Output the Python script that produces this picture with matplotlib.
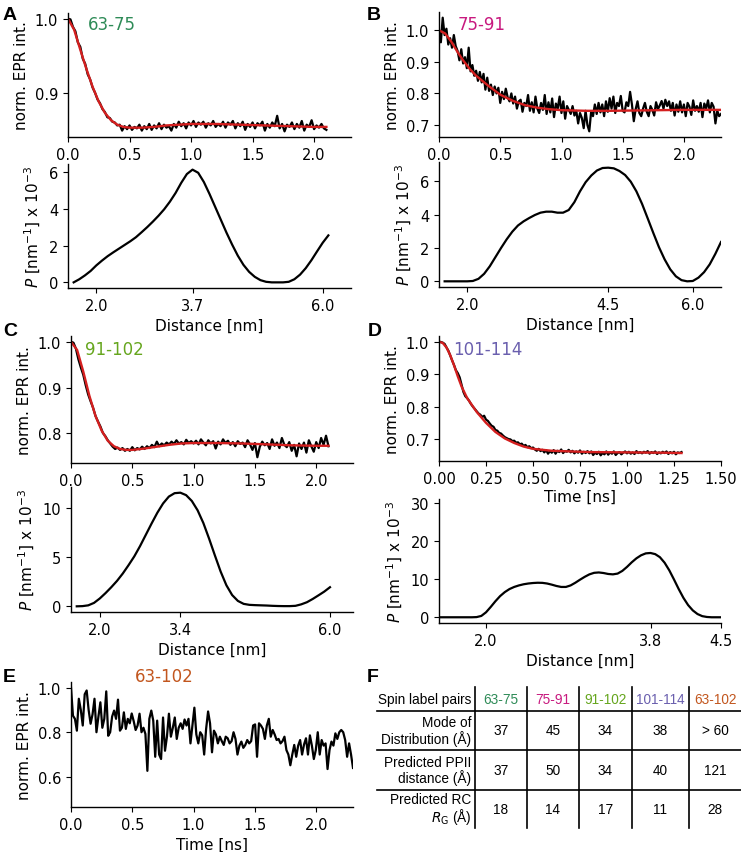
import numpy as np
import matplotlib
matplotlib.use('Agg')
import matplotlib.pyplot as plt
from matplotlib.ticker import FormatStrFormatter

W, H = 741, 853

# spin label pairs and colours
pairs = ['63-75', '75-91', '91-102', '101-114', '63-102']
pair_colors = ['#2e8b57', '#c8197f', '#66a61e', '#6a5fae', '#c2561e']
fit_color = '#d41f1f'

# --- time traces (norm. EPR int.) ---
tend_A = 2.1
trace_A = [1.000, 0.999, 0.989, 0.983, 0.968, 0.962, 0.946, 0.939, 0.925, 0.918,
           0.907, 0.900, 0.891, 0.886, 0.878, 0.874, 0.867, 0.866, 0.861, 0.860,
           0.856, 0.857, 0.849, 0.855, 0.851, 0.856, 0.850, 0.854, 0.852, 0.857,
           0.849, 0.855, 0.851, 0.858, 0.850, 0.856, 0.852, 0.859, 0.851, 0.857,
           0.853, 0.855, 0.849, 0.858, 0.853, 0.861, 0.855, 0.859, 0.852, 0.860,
           0.856, 0.862, 0.854, 0.860, 0.857, 0.861, 0.853, 0.859, 0.856, 0.862,
           0.854, 0.858, 0.855, 0.861, 0.853, 0.860, 0.857, 0.862, 0.852, 0.859,
           0.855, 0.861, 0.850, 0.858, 0.854, 0.860, 0.852, 0.859, 0.856, 0.861,
           0.849, 0.858, 0.853, 0.860, 0.855, 0.869, 0.852, 0.858, 0.848, 0.857,
           0.854, 0.860, 0.851, 0.858, 0.853, 0.862, 0.849, 0.857, 0.854, 0.863,
           0.851, 0.856, 0.853, 0.858, 0.852, 0.850]
fit_tA = [0, 0.05, 0.1, 0.15, 0.2, 0.25, 0.3, 0.35, 0.4, 0.45, 0.5, 0.6, 0.7,
          0.8, 0.9, 1.0, 1.2, 1.4, 1.6, 1.8, 2.0, 2.1]
fit_A = [1.0, 0.985, 0.958, 0.932, 0.908, 0.888, 0.873, 0.863, 0.857, 0.854,
         0.853, 0.853, 0.854, 0.856, 0.857, 0.858, 0.858, 0.857, 0.856, 0.855,
         0.854, 0.854]

tend_B = 2.3
trace_B = [1.000, 0.962, 1.040, 0.985, 1.005, 0.955, 0.975, 0.945, 0.985, 0.950,
           0.935, 0.905, 0.940, 0.895, 0.915, 0.880, 0.945, 0.870, 0.890, 0.856,
           0.872, 0.840, 0.868, 0.835, 0.862, 0.812, 0.850, 0.808, 0.828, 0.795,
           0.822, 0.800, 0.818, 0.770, 0.805, 0.782, 0.815, 0.788, 0.775, 0.800,
           0.768, 0.790, 0.752, 0.775, 0.780, 0.742, 0.770, 0.760, 0.795, 0.745,
           0.772, 0.740, 0.790, 0.752, 0.738, 0.770, 0.748, 0.795, 0.735, 0.772,
           0.740, 0.784, 0.725, 0.768, 0.752, 0.790, 0.738, 0.775, 0.720, 0.760,
           0.748, 0.735, 0.760, 0.730, 0.745, 0.705, 0.738, 0.722, 0.690, 0.745,
           0.700, 0.680, 0.742, 0.728, 0.765, 0.735, 0.770, 0.740, 0.765, 0.728,
           0.775, 0.742, 0.785, 0.752, 0.790, 0.738, 0.770, 0.760, 0.792, 0.745,
           0.740, 0.772, 0.760, 0.805, 0.765, 0.712, 0.750, 0.775, 0.738, 0.728,
           0.752, 0.770, 0.742, 0.728, 0.760, 0.748, 0.730, 0.772, 0.750, 0.762,
           0.776, 0.752, 0.780, 0.760, 0.775, 0.745, 0.770, 0.730, 0.765, 0.742,
           0.775, 0.740, 0.765, 0.728, 0.770, 0.758, 0.732, 0.778, 0.745, 0.760,
           0.742, 0.770, 0.725, 0.768, 0.752, 0.778, 0.740, 0.770, 0.758, 0.705,
           0.745, 0.728, 0.735]
fit_tB = [0, 0.05, 0.1, 0.15, 0.2, 0.25, 0.3, 0.4, 0.5, 0.6, 0.7, 0.8, 0.9,
          1.0, 1.2, 1.4, 1.6, 1.8, 2.0, 2.3]
fit_B = [1.0, 0.99, 0.964, 0.932, 0.903, 0.878, 0.857, 0.825, 0.796, 0.777,
         0.763, 0.755, 0.750, 0.747, 0.745, 0.745, 0.746, 0.747, 0.748, 0.748]

tend_C = 2.1
trace_C = [1.000, 0.998, 0.985, 0.962, 0.944, 0.928, 0.905, 0.885, 0.870, 0.856,
           0.838, 0.826, 0.815, 0.801, 0.794, 0.785, 0.778, 0.771, 0.766, 0.769,
           0.764, 0.768, 0.762, 0.766, 0.762, 0.770, 0.763, 0.768, 0.765, 0.771,
           0.766, 0.772, 0.768, 0.775, 0.770, 0.782, 0.772, 0.778, 0.774, 0.780,
           0.776, 0.782, 0.777, 0.785, 0.778, 0.781, 0.776, 0.786, 0.779, 0.783,
           0.778, 0.784, 0.776, 0.787, 0.780, 0.774, 0.785, 0.778, 0.783, 0.767,
           0.782, 0.776, 0.787, 0.779, 0.784, 0.775, 0.781, 0.772, 0.783, 0.777,
           0.780, 0.770, 0.785, 0.776, 0.764, 0.779, 0.748, 0.771, 0.782, 0.774,
           0.779, 0.766, 0.787, 0.773, 0.780, 0.768, 0.790, 0.775, 0.770, 0.781,
           0.762, 0.775, 0.750, 0.778, 0.766, 0.780, 0.758, 0.785, 0.772, 0.760,
           0.781, 0.768, 0.790, 0.775, 0.795, 0.772]
fit_tC = [0, 0.05, 0.1, 0.15, 0.2, 0.25, 0.3, 0.35, 0.4, 0.45, 0.5, 0.6, 0.7,
          0.8, 0.9, 1.0, 1.2, 1.4, 1.6, 1.8, 2.0, 2.1]
fit_C = [1.0, 0.982, 0.935, 0.882, 0.838, 0.806, 0.784, 0.772, 0.766, 0.764,
         0.764, 0.767, 0.771, 0.775, 0.778, 0.779, 0.779, 0.778, 0.776, 0.774,
         0.773, 0.773]

tend_D = 1.29
trace_D = [1.000, 0.999, 0.997, 0.993, 0.982, 0.972, 0.957, 0.942, 0.928, 0.912,
           0.903, 0.890, 0.868, 0.845, 0.832, 0.826, 0.818, 0.808, 0.800, 0.793,
           0.786, 0.779, 0.775, 0.768, 0.772, 0.760, 0.756, 0.748, 0.741, 0.738,
           0.728, 0.726, 0.719, 0.717, 0.711, 0.706, 0.703, 0.700, 0.699, 0.694,
           0.695, 0.689, 0.690, 0.684, 0.686, 0.679, 0.682, 0.675, 0.678, 0.672,
           0.674, 0.668, 0.664, 0.670, 0.663, 0.667, 0.659, 0.666, 0.655, 0.663,
           0.658, 0.666, 0.655, 0.664, 0.660, 0.668, 0.657, 0.663, 0.661, 0.667,
           0.659, 0.664, 0.656, 0.662, 0.658, 0.665, 0.655, 0.661, 0.657, 0.663,
           0.656, 0.662, 0.651, 0.658, 0.654, 0.661, 0.650, 0.657, 0.653, 0.662,
           0.652, 0.659, 0.655, 0.662, 0.651, 0.657, 0.660, 0.653, 0.658, 0.662,
           0.656, 0.661, 0.655, 0.659, 0.654, 0.663, 0.657, 0.660, 0.656, 0.661,
           0.658, 0.663, 0.655, 0.660, 0.657, 0.662, 0.654, 0.659, 0.656, 0.661,
           0.657, 0.662, 0.654, 0.660, 0.656, 0.661, 0.653, 0.659, 0.657, 0.660]
fit_tD = [0, 0.02, 0.04, 0.06, 0.08, 0.1, 0.12, 0.15, 0.2, 0.25, 0.3, 0.35,
          0.4, 0.45, 0.5, 0.6, 0.7, 0.8, 1.0, 1.2, 1.29]
fit_D = [1.0, 0.996, 0.982, 0.958, 0.927, 0.893, 0.862, 0.826, 0.784, 0.750,
         0.722, 0.702, 0.688, 0.677, 0.670, 0.664, 0.662, 0.660, 0.659, 0.658,
         0.657]

tend_E = 2.3
trace_E = [1.000, 0.874, 0.860, 0.807, 0.950, 0.900, 0.830, 0.970, 0.987, 0.900,
           0.838, 0.880, 0.950, 0.800, 0.870, 0.934, 0.820, 0.860, 0.983, 0.784,
           0.800, 0.870, 0.897, 0.860, 0.946, 0.807, 0.820, 0.889, 0.815, 0.860,
           0.840, 0.884, 0.850, 0.810, 0.830, 0.883, 0.800, 0.820, 0.792, 0.627,
           0.860, 0.897, 0.852, 0.690, 0.852, 0.700, 0.680, 0.866, 0.717, 0.780,
           0.883, 0.780, 0.820, 0.866, 0.770, 0.820, 0.840, 0.815, 0.857, 0.830,
           0.860, 0.750, 0.830, 0.910, 0.790, 0.750, 0.800, 0.786, 0.700, 0.815,
           0.893, 0.840, 0.710, 0.807, 0.790, 0.750, 0.780, 0.760, 0.743, 0.780,
           0.773, 0.750, 0.760, 0.800, 0.770, 0.700, 0.740, 0.758, 0.730, 0.743,
           0.765, 0.750, 0.760, 0.830, 0.835, 0.690, 0.840, 0.830, 0.815, 0.770,
           0.830, 0.860, 0.780, 0.810, 0.790, 0.765, 0.770, 0.750, 0.760, 0.780,
           0.720, 0.700, 0.652, 0.700, 0.743, 0.690, 0.740, 0.765, 0.700, 0.745,
           0.773, 0.700, 0.786, 0.740, 0.680, 0.720, 0.800, 0.700, 0.765, 0.740,
           0.750, 0.635, 0.720, 0.758, 0.740, 0.795, 0.770, 0.800, 0.810, 0.800,
           0.765, 0.690, 0.750, 0.700, 0.640]

# --- distance distributions (P x 10^-3) ---
rA = (1.6, 6.1)
dist_A = [0.0, 0.17, 0.38, 0.62, 0.92, 1.18, 1.42, 1.63, 1.83, 2.03,
          2.23, 2.45, 2.72, 3.00, 3.30, 3.62, 3.97, 4.38, 4.85, 5.40,
          5.88, 6.12, 5.95, 5.45, 4.80, 4.10, 3.40, 2.70, 2.05, 1.45,
          0.95, 0.57, 0.30, 0.12, 0.03, 0.0, 0.0, 0.0, 0.03, 0.17,
          0.42, 0.77, 1.20, 1.68, 2.15, 2.55]
rB = (1.6, 6.5)
dist_B = [0.0, 0.0, 0.0, 0.0, 0.0, 0.02, 0.15, 0.45, 0.90, 1.45,
          2.00, 2.52, 2.98, 3.35, 3.60, 3.80, 3.98, 4.12, 4.18, 4.18,
          4.12, 4.12, 4.28, 4.75, 5.40, 5.95, 6.35, 6.65, 6.80, 6.82,
          6.78, 6.62, 6.38, 5.98, 5.40, 4.65, 3.78, 2.90, 2.05, 1.32,
          0.72, 0.30, 0.07, 0.0, 0.02, 0.22, 0.55, 1.02, 1.65, 2.36]
rC = (1.6, 6.0)
dist_C = [0.0, 0.02, 0.10, 0.35, 0.80, 1.35, 1.95, 2.60, 3.35, 4.20,
          5.10, 6.15, 7.30, 8.45, 9.55, 10.50, 11.20, 11.55, 11.60, 11.35,
          10.75, 9.80, 8.50, 6.90, 5.20, 3.55, 2.15, 1.15, 0.55, 0.25,
          0.15, 0.12, 0.10, 0.08, 0.05, 0.03, 0.02, 0.02, 0.05, 0.20,
          0.42, 0.75, 1.12, 1.50, 1.95]
rD = (1.5, 4.5)
dist_D = [0.0, 0.0, 0.0, 0.0, 0.0, 0.0, 0.0, 0.0, 0.05, 0.35,
          1.30, 2.70, 4.20, 5.55, 6.60, 7.40, 7.95, 8.35, 8.65, 8.85,
          8.98, 9.05, 9.02, 8.85, 8.55, 8.20, 7.95, 7.95, 8.35, 9.05,
          9.85, 10.60, 11.25, 11.65, 11.75, 11.60, 11.35, 11.25, 11.45, 12.15,
          13.20, 14.40, 15.45, 16.25, 16.75, 16.85, 16.55, 15.75, 14.30, 12.30,
          9.90, 7.40, 5.10, 3.20, 1.80, 0.85, 0.30, 0.08, 0.0, 0.0, 0.0]

# --- table ---
row_labels = ['Spin label pairs', 'Mode of\nDistribution (Å)',
              'Predicted PPII\ndistance (Å)', 'Predicted RC\n$R_{\\rm G}$ (Å)']
mode_vals = ['37', '45', '34', '38', '> 60']
ppii_vals = ['37', '50', '34', '40', '121']
rg_vals = ['18', '14', '17', '11', '28']

plt.rcParams['font.size'] = 10.5
plt.rcParams['axes.labelsize'] = 11
plt.rcParams['axes.linewidth'] = 1.0

fig = plt.figure(figsize=(W / 100, H / 100), dpi=100)


def panel(l, t, r, b):
    ax = fig.add_axes([l / W, 1 - b / H, (r - l) / W, (b - t) / H])
    ax.spines['top'].set_visible(False)
    ax.spines['right'].set_visible(False)
    ax.patch.set_visible(False)
    return ax


def trace(ax, y, tend, tf=None, yf=None, label=None, color='k', lx=0.06, ly=0.9):
    t = np.linspace(0, tend, len(y))
    ax.plot(t, y, color='k', lw=1.6)
    if tf is not None:
        ax.plot(tf, yf, color=fit_color, lw=1.7)
    ax.set_ylabel('norm. EPR int.')
    ax.text(lx, ly, label, color=color, fontsize=12, transform=ax.transAxes,
            ha='left', va='center')


def dist(ax, rr, p, xlim, xticks):
    r = np.linspace(rr[0], rr[1], len(p))
    ax.plot(r, p, color='k', lw=1.6)
    ax.set_xlim(*xlim)
    ax.set_xticks(xticks)
    ax.xaxis.set_major_formatter(FormatStrFormatter('%.1f'))
    ax.set_xlabel('Distance [nm]')
    ax.set_ylabel('$P$ [nm$^{-1}$] x 10$^{-3}$')


top_ticks = [0, 0.5, 1.0, 1.5, 2.0]

# A
ax = panel(68, 14, 351, 138)
trace(ax, trace_A, tend_A, fit_tA, fit_A, pairs[0], pair_colors[0], 0.071, 0.91)
ax.set_xlim(0, 2.3)
ax.set_xticks(top_ticks)
ax.set_yticks([0.9, 1.0])
ax.xaxis.set_major_formatter(FormatStrFormatter('%.1f'))
ax.yaxis.set_major_formatter(FormatStrFormatter('%.1f'))
ax = panel(68, 165, 351, 289)
dist(ax, rA, dist_A, (1.5, 6.5), [2.0, 3.7, 6.0])
ax.set_yticks([0, 2, 4, 6])

# B
ax = panel(439, 13, 721, 138)
trace(ax, trace_B, tend_B, fit_tB, fit_B, pairs[1], pair_colors[1], 0.067, 0.904)
ax.set_xlim(0, 2.3)
ax.set_xticks(top_ticks)
ax.set_yticks([0.7, 0.8, 0.9, 1.0])
ax.xaxis.set_major_formatter(FormatStrFormatter('%.1f'))
ax = panel(439, 163, 721, 288)
dist(ax, rB, dist_B, (1.5, 6.5), [2.0, 4.5, 6.0])
ax.set_yticks([0, 2, 4, 6])

# C
ax = panel(71, 337, 353, 464)
trace(ax, trace_C, tend_C, fit_tC, fit_C, pairs[2], pair_colors[2], 0.05, 0.9)
ax.set_xlim(0, 2.3)
ax.set_xticks(top_ticks)
ax.set_yticks([0.8, 0.9, 1.0])
ax.xaxis.set_major_formatter(FormatStrFormatter('%.1f'))
ax = panel(71, 488, 353, 613)
dist(ax, rC, dist_C, (1.5, 6.4), [2.0, 3.4, 6.0])
ax.set_yticks([0, 5, 10])

# D
ax = panel(439, 337, 721, 462)
trace(ax, trace_D, tend_D, fit_tD, fit_D, pairs[3], pair_colors[3], 0.05, 0.896)
ax.set_xlim(0, 1.5)
ax.set_xticks([0, 0.25, 0.5, 0.75, 1.0, 1.25, 1.5])
ax.set_yticks([0.7, 0.8, 0.9, 1.0])
ax.xaxis.set_major_formatter(FormatStrFormatter('%.2f'))
ax.set_xlabel('Time [ns]', labelpad=2)
ax = panel(439, 500, 721, 624)
dist(ax, rD, dist_D, (1.5, 4.5), [2.0, 3.75, 4.5])
ax.set_ylim(-1.5, 31)
ax.set_yticks([0, 10, 20, 30])

# E
ax = panel(71, 683, 353, 808)
trace(ax, trace_E, tend_E, label=pairs[4], color=pair_colors[4])
ax.texts[0].set_position((0.33, 1.048))
ax.texts[0].set_ha('center')
ax.set_xlim(0, 2.3)
ax.set_ylim(0.465, 1.025)
ax.set_xticks(top_ticks)
ax.set_yticks([0.6, 0.8, 1.0])
ax.xaxis.set_major_formatter(FormatStrFormatter('%.1f'))
ax.set_xlabel('Time [ns]')

# F: table drawn in pixel units
axt = fig.add_axes([370 / W, 0, 371 / W, 223 / H])
axt.set_xlim(370, 741)
axt.set_ylim(853, 630)
axt.axis('off')
col_edges = [475, 527, 579, 632, 689, 741]
row_edges = [688, 712, 751, 791, 829]
for x in col_edges[:-1]:
    axt.plot([x, x], [row_edges[0], row_edges[-1]], color='k', lw=1.2)
for y in row_edges[1:-1]:
    axt.plot([377, 741], [y, y], color='k', lw=1.2)
tfont = dict(family='Liberation Sans', fontsize=9.8)
cx = [(col_edges[i] + col_edges[i + 1]) / 2 for i in range(5)]
cy = [(row_edges[i] + row_edges[i + 1]) / 2 for i in range(4)]
for i, lab in enumerate(row_labels):
    axt.text(471, cy[i], lab, ha='right', va='center', multialignment='right',
             linespacing=1.05, **tfont)
for j in range(5):
    axt.text(cx[j], cy[0], pairs[j], color=pair_colors[j], ha='center', va='center', **tfont)
    axt.text(cx[j], cy[1], mode_vals[j], ha='center', va='center', **tfont)
    axt.text(cx[j], cy[2], ppii_vals[j], ha='center', va='center', **tfont)
    axt.text(cx[j], cy[3], rg_vals[j], ha='center', va='center', **tfont)

# panel letters
lfont = dict(family='Liberation Sans', fontsize=14, fontweight='bold', va='top', ha='left')
for letter, x, y in [('A', 3, 7), ('B', 367, 7), ('C', 3, 323), ('D', 368, 323),
                     ('E', 3, 669), ('F', 367, 669)]:
    fig.text(x / W, 1 - y / H, letter, **lfont)

fig.savefig('out.png', dpi=100)
